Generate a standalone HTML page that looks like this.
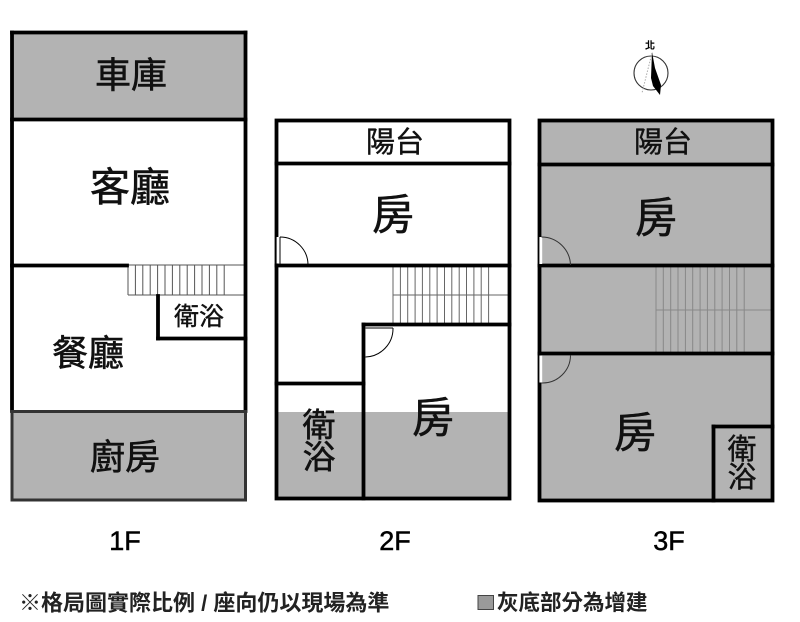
<!DOCTYPE html>
<html>
<head>
<meta charset="utf-8">
<style>
html,body{margin:0;padding:0;background:#fff;}
svg{display:block;}
.cjk{font-family:"Liberation Sans","Noto Sans CJK TC","Noto Sans CJK SC",sans-serif;}
</style>
</head>
<body>
<svg width="800" height="622" viewBox="0 0 800 622" xmlns="http://www.w3.org/2000/svg">
<rect x="0" y="0" width="800" height="622" fill="#fff"/>

<!-- ============ 1F ============ -->
<rect x="12" y="32.5" width="233.5" height="87" fill="#b3b3b3"/>
<g stroke="#555" stroke-width="1">
  <line x1="128" y1="265" x2="245" y2="265"/>
  <line x1="128" y1="295" x2="245" y2="295"/>
  <line x1="128.0" y1="265" x2="128.0" y2="295"/>
  <line x1="135.4" y1="265" x2="135.4" y2="295"/>
  <line x1="142.8" y1="265" x2="142.8" y2="295"/>
  <line x1="150.2" y1="265" x2="150.2" y2="295"/>
  <line x1="157.6" y1="265" x2="157.6" y2="295"/>
  <line x1="165.0" y1="265" x2="165.0" y2="295"/>
  <line x1="172.4" y1="265" x2="172.4" y2="295"/>
  <line x1="179.8" y1="265" x2="179.8" y2="295"/>
  <line x1="187.2" y1="265" x2="187.2" y2="295"/>
  <line x1="194.6" y1="265" x2="194.6" y2="295"/>
  <line x1="202.0" y1="265" x2="202.0" y2="295"/>
  <line x1="209.4" y1="265" x2="209.4" y2="295"/>
  <line x1="216.8" y1="265" x2="216.8" y2="295"/>
  <line x1="224.2" y1="265" x2="224.2" y2="295"/>
</g>
<g stroke="#000" stroke-width="3.8" fill="none" stroke-linecap="square">
  <line x1="12" y1="32.5" x2="245.5" y2="32.5"/>
  <line x1="12" y1="32.5" x2="12" y2="411"/>
  <line x1="245.5" y1="32.5" x2="245.5" y2="411"/>
  <line x1="12" y1="119.5" x2="245.5" y2="119.5"/>
  <line x1="12" y1="265.5" x2="127" y2="265.5"/>
  <line x1="158" y1="296" x2="158" y2="338.5"/>
  <line x1="158" y1="338.5" x2="245.5" y2="338.5"/>
</g>
<rect x="12" y="411.5" width="233.5" height="88.5" fill="#b3b3b3" stroke="#333" stroke-width="3"/>

<!-- ============ 2F ============ -->
<rect x="276.5" y="412" width="233" height="86.5" fill="#b3b3b3"/>
<g stroke="#666" stroke-width="1">
  <line x1="393" y1="295" x2="509" y2="295"/>
  <line x1="393.0" y1="267" x2="393.0" y2="323"/>
  <line x1="400.4" y1="267" x2="400.4" y2="323"/>
  <line x1="407.7" y1="267" x2="407.7" y2="323"/>
  <line x1="415.1" y1="267" x2="415.1" y2="323"/>
  <line x1="422.4" y1="267" x2="422.4" y2="323"/>
  <line x1="429.8" y1="267" x2="429.8" y2="323"/>
  <line x1="437.1" y1="267" x2="437.1" y2="323"/>
  <line x1="444.5" y1="267" x2="444.5" y2="323"/>
  <line x1="451.8" y1="267" x2="451.8" y2="323"/>
  <line x1="459.2" y1="267" x2="459.2" y2="323"/>
  <line x1="466.5" y1="267" x2="466.5" y2="323"/>
  <line x1="473.9" y1="267" x2="473.9" y2="323"/>
  <line x1="481.2" y1="267" x2="481.2" y2="323"/>
  <line x1="488.6" y1="267" x2="488.6" y2="323"/>
</g>
<g stroke="#000" stroke-width="3.8" fill="none" stroke-linecap="square">
  <rect x="276.5" y="120.5" width="233" height="378"/>
  <line x1="276.5" y1="163.5" x2="509.5" y2="163.5"/>
  <line x1="276.5" y1="265.5" x2="509.5" y2="265.5"/>
  <line x1="363.5" y1="324.5" x2="509.5" y2="324.5"/>
  <line x1="363.5" y1="324.5" x2="363.5" y2="498.5"/>
  <line x1="276.5" y1="383.5" x2="363.5" y2="383.5"/>
</g>
<rect x="276.6" y="237" width="2.4" height="26.5" fill="#fff"/>
<line x1="280" y1="237" x2="280" y2="264" stroke="#000" stroke-width="1"/>
<path d="M280,237 A28,28 0 0 1 308,265" fill="none" stroke="#000" stroke-width="1"/>
<line x1="365.5" y1="328" x2="393" y2="328" stroke="#000" stroke-width="1"/>
<path d="M393,328 A28.5,28.5 0 0 1 365.5,357" fill="none" stroke="#000" stroke-width="1"/>

<!-- ============ 3F ============ -->
<rect x="539.5" y="120.5" width="233" height="380" fill="#b3b3b3"/>
<g stroke="#888" stroke-width="1">
  <line x1="656" y1="310" x2="772" y2="310"/>
  <line x1="656.0" y1="267" x2="656.0" y2="352"/>
  <line x1="663.3" y1="267" x2="663.3" y2="352"/>
  <line x1="670.7" y1="267" x2="670.7" y2="352"/>
  <line x1="678.0" y1="267" x2="678.0" y2="352"/>
  <line x1="685.4" y1="267" x2="685.4" y2="352"/>
  <line x1="692.7" y1="267" x2="692.7" y2="352"/>
  <line x1="700.1" y1="267" x2="700.1" y2="352"/>
  <line x1="707.4" y1="267" x2="707.4" y2="352"/>
  <line x1="714.8" y1="267" x2="714.8" y2="352"/>
  <line x1="722.1" y1="267" x2="722.1" y2="352"/>
  <line x1="729.5" y1="267" x2="729.5" y2="352"/>
  <line x1="736.8" y1="267" x2="736.8" y2="352"/>
  <line x1="744.2" y1="267" x2="744.2" y2="352"/>
</g>
<g stroke="#000" stroke-width="3.8" fill="none" stroke-linecap="square">
  <rect x="539.5" y="120.5" width="233" height="380"/>
  <line x1="539.5" y1="164.5" x2="772.5" y2="164.5"/>
  <line x1="539.5" y1="265.5" x2="772.5" y2="265.5"/>
  <line x1="539.5" y1="353.5" x2="772.5" y2="353.5"/>
  <line x1="713.5" y1="426.5" x2="772.5" y2="426.5"/>
  <line x1="713.5" y1="426.5" x2="713.5" y2="500.5"/>
</g>
<rect x="539.4" y="237" width="2.8" height="27" fill="#fff"/>
<path d="M541.5,237 A29,29 0 0 1 570.5,265" fill="none" stroke="#333" stroke-width="1"/>
<rect x="539.4" y="355.5" width="2.8" height="27" fill="#fff"/>
<path d="M570.5,355 A28,28 0 0 1 541.5,383" fill="none" stroke="#333" stroke-width="1"/>

<!-- compass -->
<circle cx="651" cy="73" r="17" fill="none" stroke="#333" stroke-width="1.1"/>
<line x1="652" y1="53" x2="642" y2="93" stroke="#aaa" stroke-width="1" stroke-dasharray="1.5,1.5"/>
<path d="M652,52 L655,68 L661,85 L660,95 L653,86 L651,78 Z" fill="#000"/>
<text x="650" y="49" class="cjk" font-size="10" font-weight="bold" text-anchor="middle">北</text>

<!-- room labels -->
<g class="cjk" fill="#111" stroke="#111" stroke-width="0.6" text-anchor="middle" dominant-baseline="central">
  <text x="131" y="75" font-size="36">車庫</text>
  <text x="130" y="188" font-size="40">客廳</text>
  <text x="88" y="353" font-size="36">餐廳</text>
  <text x="125" y="458" font-size="35">廚房</text>
  <text x="199" y="317" font-size="25" stroke-width="0.4">衛浴</text>

  <text x="395" y="143" font-size="29" stroke-width="0.4">陽台</text>
  <text x="393" y="215" font-size="42">房</text>
  <text x="433" y="418" font-size="42">房</text>
  <text x="319" y="425" font-size="33">衛</text>
  <text x="319" y="457" font-size="33">浴</text>

  <text x="663" y="143" font-size="29" stroke-width="0.4">陽台</text>
  <text x="656" y="218" font-size="42">房</text>
  <text x="635" y="433" font-size="42">房</text>
  <text x="742" y="450" font-size="29" stroke-width="0.4">衛</text>
  <text x="742" y="478" font-size="29" stroke-width="0.4">浴</text>
</g>

<!-- floor labels -->
<g font-family="Liberation Sans, sans-serif" font-size="27" fill="#000" stroke="#000" stroke-width="0.5" text-anchor="middle">
  <text x="125" y="550">1F</text>
  <text x="395" y="550">2F</text>
  <text x="669" y="550">3F</text>
</g>

<!-- footer notes -->
<text x="19" y="603" class="cjk" font-size="22" font-weight="bold" fill="#222" dominant-baseline="central">※格局圖實際比例 / 座向仍以現場為準</text>
<rect x="478" y="595.5" width="15.5" height="14" fill="#9a9a9a" stroke="#444" stroke-width="1"/>
<text x="497" y="603" class="cjk" font-size="21.5" font-weight="bold" fill="#222" dominant-baseline="central">灰底部分為增建</text>
</svg>
</body>
</html>
